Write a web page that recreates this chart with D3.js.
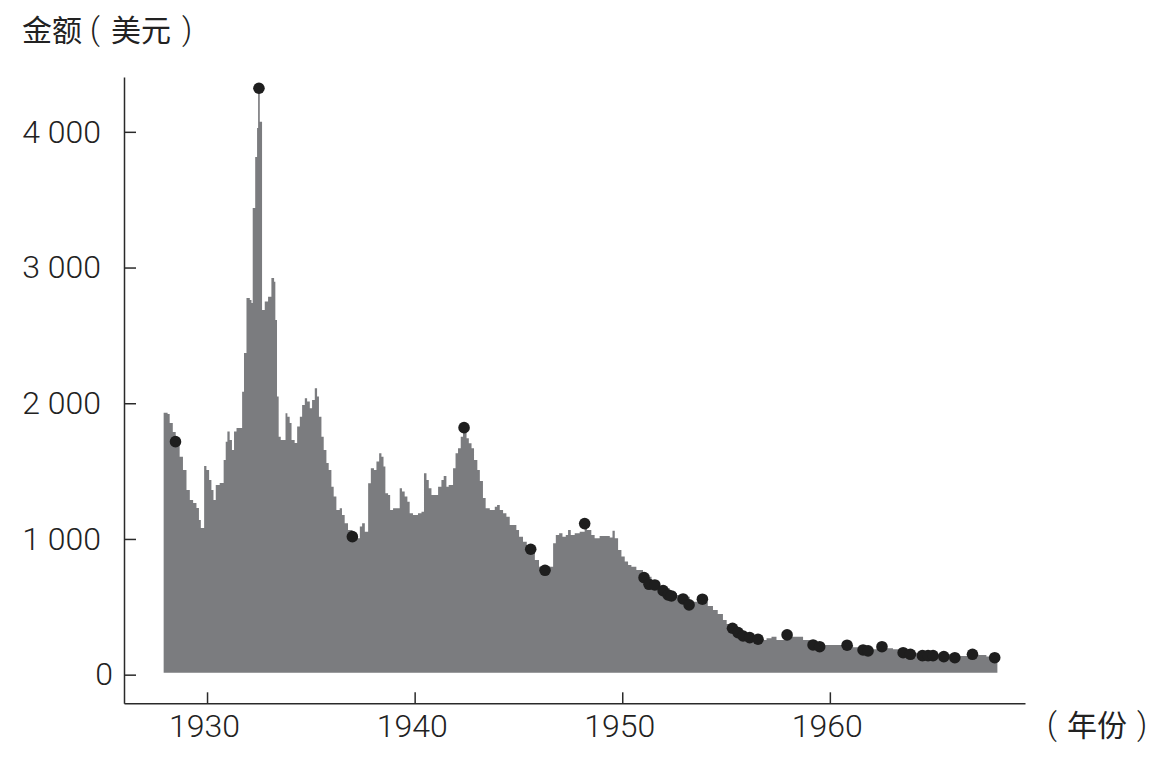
<!DOCTYPE html>
<html>
<head>
<meta charset="utf-8">
<script src="https://cdn.jsdelivr.net/npm/d3@7"></script>
<style>
  html, body { margin: 0; padding: 0; background: #fff; }
  svg { display: block; }
  .tick text { font-family: Roboto, "Liberation Sans", sans-serif; font-weight: 300; font-size: 32px; fill: #222; }
  .cjk { font-family: "Noto Sans CJK SC", sans-serif; font-size: 30px; fill: #222; }
  .paren { font-family: Roboto, "Liberation Sans", sans-serif; font-weight: 300; font-size: 31px; fill: #222; }
</style>
</head>
<body>
<svg id="chart" width="1168" height="760"></svg>
<script>
// ---- Data ----
const years = [
  1927.91, 1928.10, 1928.20, 1928.35, 1928.49, 1928.68, 1928.84, 1929.01, 1929.17, 1929.33,
  1929.49, 1929.61, 1929.70, 1929.86, 1929.97, 1930.10, 1930.21, 1930.31, 1930.42, 1930.61,
  1930.80, 1930.90, 1930.98, 1931.09, 1931.20, 1931.30, 1931.42, 1931.69, 1931.78, 1931.90,
  1932.06, 1932.14, 1932.20, 1932.32, 1932.41, 1932.46, 1932.54, 1932.65, 1932.78, 1932.94,
  1933.10, 1933.23, 1933.29, 1933.37, 1933.45, 1933.55, 1933.78, 1933.87, 1933.98, 1934.07,
  1934.22, 1934.34, 1934.47, 1934.58, 1934.71, 1934.82, 1934.95, 1935.06, 1935.19, 1935.30,
  1935.39, 1935.51, 1935.62, 1935.75, 1935.86, 1935.99, 1936.10, 1936.23, 1936.39, 1936.50,
  1936.63, 1936.79, 1937.00, 1937.20, 1937.36, 1937.47, 1937.60, 1937.76, 1937.89, 1938.04,
  1938.16, 1938.29, 1938.40, 1938.50, 1938.59, 1938.72, 1938.82, 1938.96, 1939.28, 1939.39,
  1939.52, 1939.65, 1939.76, 1939.92, 1940.16, 1940.33, 1940.45, 1940.57, 1940.68, 1940.81,
  1941.13, 1941.29, 1941.40, 1941.53, 1941.64, 1941.85, 1941.97, 1942.09, 1942.22, 1942.33,
  1942.50, 1942.61, 1942.74, 1942.86, 1943.02, 1943.14, 1943.29, 1943.42, 1943.62, 1943.86,
  1943.97, 1944.10, 1944.26, 1944.42, 1944.58, 1944.90, 1945.03, 1945.22, 1945.40, 1945.59,
  1945.79, 1945.99, 1946.28, 1946.51, 1946.67, 1946.80, 1946.96, 1947.12, 1947.28, 1947.39,
  1947.52, 1947.71, 1947.95, 1948.19, 1948.30, 1948.51, 1948.67, 1948.91, 1949.24, 1949.40,
  1949.53, 1949.64, 1949.80, 1949.96, 1950.12, 1950.28, 1950.44, 1950.68, 1951.00, 1951.41,
  1951.65, 1951.97, 1952.29, 1952.63, 1952.93, 1953.25, 1953.54, 1953.89, 1954.12, 1954.37,
  1954.60, 1954.85, 1955.03, 1955.34, 1955.66, 1955.98, 1956.30, 1956.62, 1956.95, 1957.19,
  1957.43, 1957.83, 1958.39, 1958.71, 1959.03, 1959.42, 1959.84, 1960.48, 1961.12, 1961.76,
  1962.40, 1963.04, 1963.69, 1964.33, 1964.97, 1965.93, 1966.90, 1967.54, 1968.07
];
const values = [
  1930, 1921, 1855, 1789, 1715, 1606, 1508, 1361, 1287, 1265,
  1228, 1140, 1081, 1538, 1508, 1435, 1361, 1287, 1398, 1413,
  1582, 1717, 1791, 1730, 1656, 1791, 1818, 2085, 2371, 2776,
  2761, 2739, 3439, 3815, 4029, 4323, 4075, 2687, 2749, 2785,
  2923, 2896, 2614, 2049, 1754, 1730, 1926, 1901, 1855, 1730,
  1707, 1828, 1901, 1987, 2037, 2012, 1963, 2024, 2110, 2049,
  1901, 1754, 1656, 1560, 1508, 1385, 1312, 1214, 1226, 1177,
  1116, 1066, 1017, 1005, 1091, 1116, 1054, 1410, 1521, 1508,
  1570, 1631, 1606, 1533, 1337, 1324, 1214, 1226, 1374, 1349,
  1312, 1275, 1189, 1177, 1189, 1201, 1484, 1435, 1374, 1324,
  1385, 1435, 1464, 1385, 1398, 1521, 1631, 1668, 1754, 1803,
  1742, 1705, 1668, 1582, 1508, 1427, 1302, 1226, 1214, 1238,
  1251, 1214, 1189, 1164, 1103, 1066, 1017, 980, 956, 924,
  845, 796, 769, 796, 968, 1029, 1042, 1017, 1029, 1066,
  1029, 1042, 1054, 1081, 1066, 1029, 1005, 1022, 1022, 1011,
  1061, 1005, 919, 870, 833, 808, 796, 772, 722, 674,
  648, 637, 602, 587, 575, 538, 538, 538, 506, 477,
  447, 403, 374, 342, 315, 293, 274, 256, 268, 280,
  256, 280, 280, 256, 231, 219, 219, 219, 202, 187,
  195, 187, 162, 150, 150, 138, 145, 133, 133
];
const dotYears = [
  1928.48, 1932.50, 1937.00, 1942.38, 1945.59, 1946.28, 1948.19, 1951.05, 1951.29, 1951.57,
  1951.97, 1952.21, 1952.37, 1952.93, 1953.22, 1953.86, 1955.31, 1955.58, 1955.82, 1956.14,
  1956.54, 1957.94, 1959.19, 1959.51, 1960.83, 1961.60, 1961.84, 1962.51, 1963.53, 1963.88,
  1964.46, 1964.73, 1964.97, 1965.49, 1966.02, 1966.87, 1967.94
];
const dotValues = [
  1717, 4321, 1017, 1820, 924, 769, 1113, 715, 666, 661,
  619, 587, 580, 558, 514, 556, 342, 310, 285, 273,
  261, 293, 219, 206, 217, 182, 175, 206, 162, 150,
  140, 140, 140, 133, 125, 150, 125
];
const xTicks = [1930, 1940, 1950, 1960];
const yTicks = [0, 1000, 2000, 3000, 4000];
const yTitleWord = "金额";
const yTitleUnit = "美元";
const xTitleWord = "年份";

// ---- Drawing ----
const svg = d3.select("#chart");
const series = years.map((yr, i) => ({ year: yr, value: values[i] }));
const dots = dotYears.map((yr, i) => ({ year: yr, value: dotValues[i] }));

const x = d3.scaleLinear().domain([1926, 1969.4]).range([124, 1025]);
const y = d3.scaleLinear().domain([-211, 4404]).range([703.3, 77]);

const area = d3.area()
  .x(d => x(d.year))
  .y0(y(15))
  .y1(d => y(d.value))
  .curve(d3.curveStepAfter);

svg.append("path")
  .datum(series)
  .attr("d", area)
  .attr("fill", "#7b7c7f");

svg.append("g")
  .selectAll("circle")
  .data(dots)
  .join("circle")
  .attr("cx", d => x(d.year))
  .attr("cy", d => y(d.value))
  .attr("r", 5.8)
  .attr("fill", "#1e1e1e");

const loc = d3.formatLocale({ decimal: ".", thousands: " ", grouping: [3], currency: ["", ""] });
const fmt = loc.format(",d");

const xAxis = svg.append("g")
  .attr("transform", `translate(0,${y.range()[0]})`)
  .call(d3.axisBottom(x).tickValues(xTicks).tickFormat(d3.format("d"))
    .tickSizeInner(-11).tickSizeOuter(0).tickPadding(11));
xAxis.selectAll("text").attr("dx", "-3");

const yAxis = svg.append("g")
  .attr("transform", `translate(${x.range()[0]},0)`)
  .call(d3.axisLeft(y).tickValues(yTicks).tickFormat(fmt)
    .tickSizeInner(-12).tickSizeOuter(0).tickPadding(23));
yAxis.selectAll(".tick").filter(d => d === 0).select("text").attr("dx", "12");

svg.selectAll(".domain, .tick line").attr("stroke", "#2a2a2a").attr("stroke-width", 1.5);

// Titles: word, then bracketed unit with spacing as in the reference
const yt = svg.append("g");
yt.append("text").attr("class", "cjk").attr("x", 22).attr("y", 41).text(yTitleWord);
yt.append("text").attr("class", "paren").attr("x", 95).attr("y", 40).attr("text-anchor", "middle").text("(");
yt.append("text").attr("class", "cjk").attr("x", 111).attr("y", 41).text(yTitleUnit);
yt.append("text").attr("class", "paren").attr("x", 187).attr("y", 40).attr("text-anchor", "middle").text(")");

const xt = svg.append("g");
xt.append("text").attr("class", "paren").attr("x", 1052).attr("y", 735).attr("text-anchor", "middle").text("(");
xt.append("text").attr("class", "cjk").attr("x", 1067).attr("y", 736).text(xTitleWord);
xt.append("text").attr("class", "paren").attr("x", 1142).attr("y", 735).attr("text-anchor", "middle").text(")");
</script>
</body>
</html>
